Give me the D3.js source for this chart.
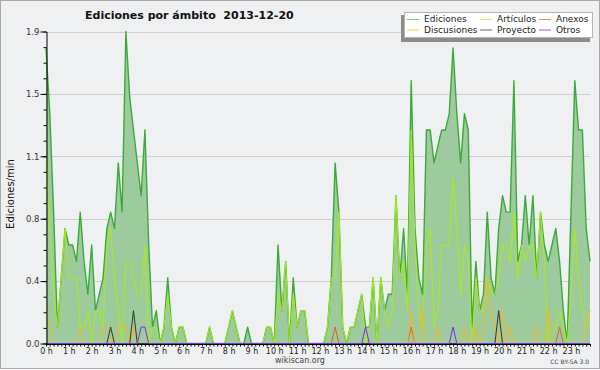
<!DOCTYPE html>
<html>
<head>
<meta charset="utf-8">
<script src="https://cdn.jsdelivr.net/npm/d3@7"></script>
<style>
body { margin: 0; background: #fff; }
svg { display: block; }
text { font-family: "DejaVu Sans", sans-serif; }
</style>
</head>
<body>
<svg width="600" height="370"></svg>
<script>
// 10-minute bins, edits per minute
var hours = ["0 h", "1 h", "2 h", "3 h", "4 h", "5 h", "6 h", "7 h", "8 h", "9 h", "10 h", "11 h",
    "12 h", "13 h", "14 h", "15 h", "16 h", "17 h", "18 h", "19 h", "20 h", "21 h", "22 h", "23 h"];

var yTicks = [0, 0.38, 0.76, 1.14, 1.52, 1.9];

var ediciones = [
    1.8, 1.4, 0.8, 0.1, 0.4, 0.7, 0.6, 0.6, 0.5, 0.8, 0.5, 0.3, 0.6, 0.2, 0.3, 0.4, 0.7, 0.8, 0.7, 1.1, 0.8, 1.9, 1.5, 1.3,
    1.1, 0.9, 1.3, 0.6, 0.1, 0.2, 0, 0.1, 0.4, 0.1, 0, 0.1, 0.1, 0, 0, 0, 0, 0, 0, 0.1, 0, 0, 0, 0,
    0.1, 0.2, 0.1, 0, 0, 0.1, 0, 0, 0, 0, 0.1, 0.1, 0, 0.6, 0.2, 0.5, 0, 0.4, 0.1, 0.2, 0.2, 0, 0, 0,
    0, 0, 0.1, 0.4, 1.1, 0.8, 0.1, 0, 0.1, 0.1, 0.2, 0.3, 0.1, 0.1, 0.4, 0, 0.4, 0.2, 0.3, 0.3, 0.9, 0.4, 0.7, 0.3,
    1.6, 0.7, 0.4, 0.3, 1.3, 1.3, 1.1, 1.2, 1.3, 1.3, 1.4, 1.8, 1.4, 1.1, 1.4, 1.3, 0.1, 0.5, 0.2, 0.3, 0.8, 0.4, 0.3, 0.7,
    0.9, 0.8, 0.8, 1.6, 0.5, 0.6, 0.9, 0.6, 0.9, 0.4, 0.8, 0.6, 0.5, 0.6, 0.7, 0.5, 0.2, 0, 0.8, 1.6, 1.3, 1.3, 0.7, 0.5
];

var articulos = [
    1.1, 0.7, 0.3, 0.1, 0.4, 0.7, 0.4, 0.4, 0.4, 0.1, 0.1, 0.2, 0, 0.2, 0.2, 0.1, 0.6, 0.7, 0.4, 0.2, 0, 0.5, 0.5, 0.4,
    0.3, 0.3, 0.6, 0, 0.1, 0.1, 0, 0.1, 0.3, 0.1, 0, 0.1, 0.1, 0, 0, 0, 0, 0, 0, 0.1, 0, 0, 0, 0,
    0.1, 0.2, 0.1, 0, 0, 0, 0, 0, 0, 0, 0.1, 0.1, 0, 0.3, 0.2, 0.5, 0, 0.3, 0.1, 0.2, 0.2, 0, 0, 0,
    0, 0, 0.1, 0.4, 0.4, 0.8, 0.1, 0, 0.1, 0.1, 0.2, 0.3, 0, 0.1, 0.4, 0, 0.4, 0.2, 0.1, 0.2, 0.9, 0.4, 0.5, 0.2,
    1.3, 0.6, 0.2, 0.1, 0.6, 0.7, 0.1, 0.2, 0.6, 0.6, 0.6, 1.0, 0.7, 0.3, 0.6, 0.5, 0, 0.4, 0.2, 0.2, 0.4, 0.3, 0.3, 0.4,
    0.6, 0.6, 0.5, 0.8, 0.4, 0.6, 0.5, 0.6, 0.6, 0.4, 0.8, 0.5, 0, 0.1, 0.1, 0.2, 0.1, 0, 0.3, 0.7, 0.4, 0.2, 0.1, 0.2
];

var anexos = [
    0, 0, 0, 0, 0, 0, 0, 0, 0, 0, 0, 0, 0, 0, 0, 0, 0, 0, 0, 0, 0, 0, 0, 0,
    0, 0, 0, 0, 0, 0, 0, 0, 0, 0, 0, 0, 0, 0, 0, 0, 0, 0, 0, 0, 0, 0, 0, 0,
    0, 0, 0, 0, 0, 0, 0, 0, 0, 0, 0, 0, 0, 0, 0, 0, 0, 0, 0, 0, 0, 0, 0, 0,
    0, 0, 0, 0, 0.1, 0, 0, 0, 0, 0, 0, 0, 0, 0, 0, 0, 0, 0, 0, 0, 0, 0, 0, 0,
    0.1, 0, 0, 0, 0, 0, 0, 0, 0, 0, 0, 0, 0, 0, 0, 0, 0, 0, 0, 0, 0, 0, 0, 0,
    0, 0, 0, 0, 0, 0, 0, 0, 0, 0, 0, 0, 0, 0, 0, 0.1, 0, 0, 0, 0, 0, 0, 0, 0
];

var discusiones = [
    0.2, 0.1, 0, 0, 0, 0, 0, 0, 0, 0.1, 0, 0, 0, 0, 0, 0.1, 0.1, 0, 0, 0.1, 0.1, 0.1, 0, 0.1,
    0, 0, 0, 0, 0, 0, 0, 0, 0, 0, 0, 0, 0, 0, 0, 0, 0, 0, 0, 0, 0, 0, 0, 0,
    0, 0, 0, 0, 0, 0, 0, 0, 0, 0, 0, 0, 0, 0, 0, 0, 0, 0, 0, 0, 0, 0, 0, 0,
    0, 0, 0, 0, 0, 0, 0, 0, 0, 0, 0, 0, 0, 0, 0, 0, 0, 0, 0, 0, 0, 0, 0, 0,
    0.2, 0, 0, 0.2, 0, 0, 0, 0.1, 0, 0, 0, 0, 0, 0, 0.1, 0, 0, 0.1, 0, 0.1, 0.4, 0.2, 0.1, 0,
    0.2, 0, 0.1, 0, 0, 0, 0, 0, 0, 0.1, 0, 0, 0.2, 0, 0, 0, 0, 0, 0, 0, 0, 0, 0.1, 0.2
];

var proyecto = [
    0, 0, 0, 0, 0, 0, 0, 0, 0, 0, 0, 0, 0, 0, 0, 0, 0, 0.1, 0, 0, 0, 0, 0, 0.2,
    0, 0, 0, 0, 0, 0, 0, 0, 0, 0, 0, 0, 0, 0, 0, 0, 0, 0, 0, 0, 0, 0, 0, 0,
    0, 0, 0, 0, 0, 0, 0, 0, 0, 0, 0, 0, 0, 0, 0, 0, 0, 0, 0, 0, 0, 0, 0, 0,
    0, 0, 0, 0, 0, 0, 0, 0, 0, 0, 0, 0, 0, 0, 0, 0, 0, 0, 0, 0, 0, 0, 0, 0,
    0, 0, 0, 0, 0, 0, 0, 0, 0, 0, 0, 0, 0, 0, 0, 0, 0, 0, 0, 0, 0, 0, 0, 0.2,
    0, 0, 0, 0, 0, 0, 0, 0, 0, 0, 0, 0, 0, 0, 0, 0, 0, 0, 0, 0, 0, 0, 0, 0
];

var otros = [
    0, 0, 0, 0, 0, 0, 0, 0, 0, 0, 0, 0, 0, 0, 0, 0, 0, 0, 0, 0, 0, 0, 0, 0,
    0, 0.1, 0.1, 0, 0, 0, 0, 0, 0, 0, 0, 0, 0, 0, 0, 0, 0, 0, 0, 0, 0, 0, 0, 0,
    0, 0, 0, 0, 0, 0, 0, 0, 0, 0, 0, 0, 0, 0, 0, 0, 0, 0, 0, 0, 0, 0, 0, 0,
    0, 0, 0, 0, 0, 0, 0, 0, 0, 0, 0, 0, 0.1, 0, 0, 0, 0, 0, 0, 0, 0, 0, 0, 0,
    0, 0, 0, 0, 0, 0, 0, 0, 0, 0, 0, 0.1, 0, 0, 0, 0, 0, 0, 0, 0, 0, 0, 0, 0,
    0, 0, 0, 0, 0, 0, 0, 0, 0, 0, 0, 0, 0, 0, 0, 0, 0, 0, 0, 0, 0, 0, 0, 0
];

var series = [
    {name: "Ediciones", values: ediciones, color: "#3aab3a", key: "#7fcf7f", width: 1.4},
    {name: "Artículos", values: articulos, color: "#aaee11", key: "#cdee66", width: 1},
    {name: "Anexos", values: anexos, color: "#e8601c", key: "#ee8a55", width: 1},
    {name: "Discusiones", values: discusiones, color: "#f5b820", key: "#ffcc44", width: 1},
    {name: "Proyecto", values: proyecto, color: "#333333", key: "#666666", width: 1},
    {name: "Otros", values: otros, color: "#7b2cf0", key: "#9a55ee", width: 1}
];

var svg = d3.select("svg");

svg.append("rect")
    .attr("x", 0.5).attr("y", 0.5)
    .attr("width", 599).attr("height", 368)
    .attr("fill", "#eff0f2")
    .attr("stroke", "#a8a8a8");

var x = d3.scaleLinear().domain([0, ediciones.length - 1]).range([46, 590]);
var y = d3.scaleLinear().domain([0, 1.9]).range([343.5, 31.5]);

// grid
svg.append("g")
    .selectAll("line")
    .data(yTicks.slice(1))
    .enter().append("line")
    .attr("x1", 46).attr("x2", 590)
    .attr("y1", function (d) { return Math.round(y(d)) + 0.5; })
    .attr("y2", function (d) { return Math.round(y(d)) + 0.5; })
    .attr("stroke", "#cfcfcf");

// area under total
var area = d3.area()
    .x(function (d, i) { return x(i); })
    .y0(y(0))
    .y1(function (d) { return y(d); });

svg.append("path")
    .datum(ediciones)
    .attr("d", area)
    .attr("fill", "#9ecb9e");

var line = d3.line()
    .x(function (d, i) { return x(i); })
    .y(function (d) { return y(d); });

svg.selectAll(".serie")
    .data(series)
    .enter().append("path")
    .attr("class", "serie")
    .attr("d", function (s) { return line(s.values); })
    .attr("fill", "none")
    .attr("stroke", function (s) { return s.color; })
    .attr("stroke-width", function (s) { return s.width; })
    .attr("stroke-linejoin", "round");

// y axis
var minor = d3.range(0, 21).map(function (k) { return k * 0.095; });
svg.append("g")
    .attr("transform", "translate(46.5,0)")
    .call(d3.axisLeft(y).tickValues(minor).tickSize(3).tickFormat(""))
    .call(function (g) { g.select(".domain").remove(); })
    .selectAll("line").attr("stroke", "#000");

var yAxis = svg.append("g")
    .attr("transform", "translate(46.5,0)")
    .call(d3.axisLeft(y).tickValues(yTicks).tickSize(6).tickSizeOuter(0).tickPadding(1).tickFormat(d3.format(".1f")));
yAxis.selectAll("text").attr("font-size", 8.5).attr("fill", "#333").attr("font-family", "DejaVu Sans");
yAxis.select(".domain").attr("stroke", "#000");

// x axis
var xAxis = svg.append("g")
    .attr("transform", "translate(0,344)")
    .call(d3.axisBottom(x)
        .tickValues(d3.range(0, ediciones.length))
        .tickSize(2.5).tickSizeOuter(0).tickPadding(1.5)
        .tickFormat(function (i) { return i % 6 === 0 ? hours[i / 6] : ""; }));
xAxis.selectAll("text").attr("font-size", 8).attr("fill", "#222").attr("font-family", "DejaVu Sans");
xAxis.selectAll("line").attr("stroke", "#000");
xAxis.select(".domain").attr("stroke", "#000");

// titles
svg.append("text")
    .attr("x", 85).attr("y", 18.5)
    .attr("font-size", 11).attr("font-weight", "bold")
    .attr("fill", "#111")
    .text("Ediciones por ámbito\u00a0\u00a02013-12-20");

svg.append("text")
    .attr("transform", "translate(14,194) rotate(-90)")
    .attr("text-anchor", "middle")
    .attr("font-size", 10)
    .attr("fill", "#111")
    .text("Ediciones/min");

svg.append("text")
    .attr("x", 300).attr("y", 363)
    .attr("text-anchor", "middle")
    .attr("font-size", 8)
    .attr("fill", "#444")
    .text("wikiscan.org");

svg.append("text")
    .attr("x", 589).attr("y", 364)
    .attr("text-anchor", "end")
    .attr("font-size", 6)
    .attr("fill", "#444")
    .text("CC BY-SA 3.0");

// legend
var legend = svg.append("g");
legend.append("rect")
    .attr("x", 401).attr("y", 15).attr("width", 189).attr("height", 27)
    .attr("fill", "#8c8c8c");
legend.append("rect")
    .attr("x", 404.5).attr("y", 12.5).attr("width", 188).attr("height", 25)
    .attr("fill", "#fff").attr("stroke", "#b4b4b4");

var colX = [407, 480, 539];
var rowY = [19, 29.5];
var item = legend.selectAll(".item")
    .data(series)
    .enter().append("g")
    .attr("class", "item")
    .attr("transform", function (s, i) {
        return "translate(" + colX[i % 3] + "," + rowY[Math.floor(i / 3)] + ")";
    });
item.append("line")
    .attr("x1", 0).attr("x2", 12)
    .attr("y1", 0.5).attr("y2", 0.5)
    .attr("stroke", function (s) { return s.key; });
item.append("text")
    .attr("x", 17).attr("y", 3.3)
    .attr("font-size", 9)
    .attr("fill", "#222")
    .text(function (s) { return s.name; });
</script>
</body>
</html>
